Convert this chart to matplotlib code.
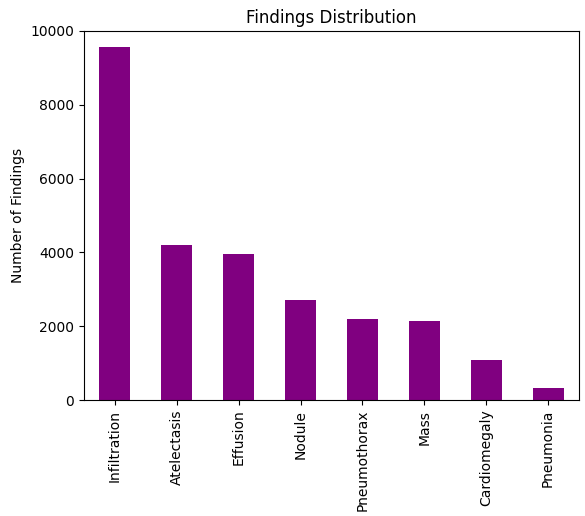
import matplotlib
matplotlib.use("Agg")
import matplotlib.pyplot as plt

categories = ["Infiltration", "Atelectasis", "Effusion", "Nodule",
              "Pneumothorax", "Mass", "Cardiomegaly", "Pneumonia"]
counts = [9565, 4212, 3967, 2717, 2201, 2147, 1087, 326]

fig = plt.figure(figsize=(5.85, 5.16), dpi=100)
ax = fig.add_axes([84 / 585, 116 / 516, 495 / 585, 369 / 516])
x = range(len(categories))
ax.bar(x, counts, width=0.5, color="purple")
ax.set_xticks(list(x))
ax.set_xticklabels(categories, rotation=90)
ax.set_xlim(-0.5, len(categories) - 0.5)
ax.set_ylim(0, 10000)
ax.set_ylabel("Number of Findings")
ax.set_title("Findings Distribution")
fig.savefig("out.png", dpi=100)
